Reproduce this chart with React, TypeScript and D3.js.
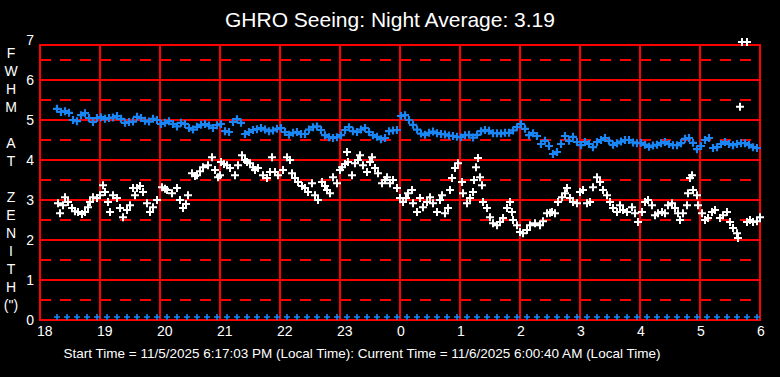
import React from 'react';
import * as d3 from 'd3';

const W = 780;
const H = 377;

const title = 'GHRO Seeing: Night Average: 3.19';
const footer = 'Start Time = 11/5/2025 6:17:03 PM (Local Time): Current Time = 11/6/2025 6:00:40 AM (Local Time)';
const hourLabels = ['18', '19', '20', '21', '22', '23', '0', '1', '2', '3', '4', '5', '6'];
const yTickLabels = ['0', '1', '2', '3', '4', '5', '6', '7'];
const yAxisLetters = ['F', 'W', 'H', 'M', '', 'A', 'T', '', 'Z', 'E', 'N', 'I', 'T', 'H', '(")'];

// minutes after 18:00
const blueStartMinute = 17;
const blueStepMinutes = 4;
const blueValues = [
  5.28, 5.2, 5.22, 5.18, 5.0, 4.97, 5.12, 5.17, 5.05, 4.95, 5.05, 5.07, 5.03, 5.05, 5.06, 5.1,
  5.03, 4.93, 4.95, 4.96, 5.08, 5.05, 4.98, 4.96, 5.03, 5.0, 4.9, 4.93, 4.97, 4.9, 4.84, 4.93,
  4.9, 4.8, 4.76, 4.83, 4.88, 4.9, 4.86, 4.8, 4.87, 4.9, 4.72, 4.7, 4.95, 5.02, 4.93, 4.65,
  4.7, 4.75, 4.77, 4.8, 4.76, 4.72, 4.74, 4.78, 4.8, 4.7, 4.63, 4.68, 4.7, 4.65, 4.65, 4.76,
  4.82, 4.84, 4.75, 4.62, 4.57, 4.55, 4.57, 4.62, 4.75, 4.82, 4.72, 4.7, 4.76, 4.8, 4.7, 4.62,
  4.58, 4.52, 4.55, 4.72, 4.74, 4.75, 5.1, 5.12, 5.0, 4.88, 4.76, 4.66, 4.63, 4.68, 4.71, 4.67,
  4.65, 4.64, 4.61, 4.6, 4.58, 4.57, 4.62, 4.63, 4.56, 4.63, 4.72, 4.75, 4.73, 4.67, 4.67, 4.66,
  4.68, 4.68, 4.74, 4.82, 4.9, 4.78, 4.62, 4.67, 4.6, 4.4, 4.48, 4.35, 4.15, 4.2, 4.4, 4.6,
  4.48, 4.58, 4.45, 4.37, 4.45, 4.4, 4.32, 4.45, 4.5, 4.55, 4.48, 4.38, 4.42, 4.46, 4.5, 4.5,
  4.44, 4.42, 4.43, 4.38, 4.33, 4.36, 4.38, 4.42, 4.45, 4.4, 4.37, 4.37, 4.42, 4.53, 4.55, 4.43,
  4.27, 4.35, 4.5, 4.55, 4.3, 4.32, 4.4, 4.45, 4.4, 4.37, 4.4, 4.42, 4.42, 4.38, 4.32, 4.3,
];

const baselineStartMinute = 17;
const baselineStepMinutes = 10;
const baselineValues = [
  0, 0, 0, 0, 0, 0, 0, 0, 0, 0, 0, 0, 0, 0, 0, 0, 0, 0, 0, 0, 0, 0, 0, 0,
  0, 0, 0, 0, 0, 0, 0, 0, 0, 0, 0, 0, 0, 0, 0, 0, 0, 0, 0, 0, 0, 0, 0, 0,
  0, 0, 0, 0, 0, 0, 0, 0, 0, 0, 0, 0, 0, 0, 0, 0, 0, 0, 0, 0, 0, 0, 0,
];

// [minute after 18:00, FWHM]
const whitePoints: [number, number][] = [
  [18, 2.92], [20, 2.67], [23, 2.87], [25, 3.07], [28, 2.95], [32, 2.8], [35, 2.72], [38, 2.7],
  [42, 2.65], [45, 2.7], [48, 2.82], [50, 2.95], [53, 3.07], [57, 3.05], [60, 3.12], [63, 3.37],
  [65, 3.2], [68, 2.95], [70, 2.7], [73, 3.12], [77, 3.05], [80, 2.8], [83, 2.57], [87, 2.75],
  [90, 2.87], [93, 3.3], [95, 3.12], [97, 3.3], [100, 3.35], [103, 3.2], [107, 2.92], [110, 2.7],
  [113, 2.82], [117, 3.0], [122, 3.32], [125, 3.28], [127, 3.25], [132, 3.17], [137, 3.3], [140, 3.0],
  [143, 2.8], [146, 2.9], [148, 3.12], [152, 3.67], [155, 3.6], [157, 3.62], [160, 3.72], [163, 3.82],
  [168, 3.87], [172, 4.07], [175, 3.75], [178, 3.57],
  [180, 3.62], [181, 3.95], [184, 3.9], [187, 3.87], [190, 3.8], [195, 3.62], [198, 3.87], [202, 4.12],
  [205, 4.0], [207, 3.95], [210, 3.92], [213, 3.82], [215, 3.75], [218, 3.8], [223, 3.62], [227, 3.55],
  [230, 3.7], [232, 4.07], [235, 3.7], [238, 3.62], [243, 3.75], [247, 4.07], [250, 4.0], [252, 3.67],
  [255, 3.55], [258, 3.45], [262, 3.35], [265, 3.3], [268, 3.2], [272, 3.42], [275, 3.12], [278, 3.0],
  [282, 3.45], [285, 3.35], [287, 3.25], [290, 3.17], [293, 3.57], [297, 3.42], [300, 3.75], [302, 3.82],
  [305, 3.9], [307, 4.2], [308, 3.95], [312, 3.62], [315, 3.92], [318, 4.0], [320, 4.12], [323, 3.87],
  [327, 3.7], [330, 3.95], [332, 4.07], [335, 3.8], [338, 3.67], [342, 3.42], [345, 3.5], [347, 3.57],
  [350, 3.42], [353, 3.5], [357, 3.3],
  [360, 3.05], [363, 2.95], [366, 3.05], [368, 3.17], [372, 3.25], [373, 2.92], [377, 2.7], [380, 3.05],
  [383, 2.82], [387, 2.95], [390, 3.07], [393, 2.92], [397, 2.7], [400, 3.0], [402, 3.12], [405, 2.67],
  [408, 2.8], [410, 3.25], [412, 3.55], [415, 3.8], [418, 3.92], [422, 3.45], [423, 3.17], [427, 2.92],
  [430, 3.05], [433, 3.2], [434, 3.5], [436, 3.82], [438, 4.05], [440, 3.57], [442, 3.37], [443, 2.95],
  [447, 2.8], [450, 2.57], [453, 2.42], [457, 2.37], [460, 2.45], [463, 2.55], [467, 2.8], [470, 2.95],
  [472, 2.7], [473, 2.5], [477, 2.37], [480, 2.2], [483, 2.17], [487, 2.25], [490, 2.37], [495, 2.42],
  [500, 2.37], [503, 2.47], [507, 2.67], [510, 2.68], [512, 2.7], [515, 2.67], [518, 2.95], [522, 3.07],
  [525, 3.17], [527, 3.3], [530, 3.05], [533, 2.95], [537, 2.92],
  [540, 3.2], [543, 3.25], [547, 2.92], [550, 2.95], [553, 3.32], [557, 3.57], [560, 3.45], [563, 3.25],
  [567, 3.12], [570, 2.95], [573, 2.8], [577, 2.7], [580, 2.87], [583, 2.75], [587, 2.7], [592, 2.82],
  [595, 2.67], [598, 2.45], [602, 2.7], [605, 2.95], [608, 3.0], [612, 2.87], [615, 2.62], [618, 2.67],
  [622, 2.7], [625, 2.67], [628, 2.87], [632, 2.92], [635, 2.8], [638, 2.67], [640, 2.5], [643, 2.67],
  [647, 2.87], [648, 3.17], [650, 3.55], [652, 3.62], [653, 3.25], [657, 3.12], [658, 2.87], [662, 2.67],
  [665, 2.5], [668, 2.55], [672, 2.7], [675, 2.75], [680, 2.55], [683, 2.62], [687, 2.7], [690, 2.45],
  [693, 2.3], [697, 2.17], [698, 2.05], [700, 5.33], [702, 6.95], [707, 6.95], [707, 2.45], [710, 2.5],
  [713, 2.45], [717, 2.47], [720, 2.57],
];

const PLOT_LEFT = 40;
const PLOT_RIGHT = 760;
const PLOT_BOTTOM = 320;
const PLOT_TOP = 45;
const FONT = '"Liberation Sans", Arial, sans-serif';

const x = d3.scaleLinear().domain([0, 720]).range([PLOT_LEFT, PLOT_RIGHT]);
const y = d3.scaleLinear().domain([0, 7]).range([PLOT_BOTTOM, 40]);

const plus = (cx: number, cy: number, r: number) =>
  `M${cx - r},${cy}H${cx + r}M${cx},${cy - r}V${cy + r}`;

export default function App() {
  const hourTicks = d3.range(0, 721, 60);
  const solidLevels = d3.range(1, 7);
  const dashedLevels = d3.range(0.5, 7, 1);

  const bluePath = blueValues
    .map((v, i) => plus(x(blueStartMinute + i * blueStepMinutes), y(v), 4))
    .join('');
  const basePath = baselineValues
    .map((v, i) => plus(x(baselineStartMinute + i * baselineStepMinutes), y(v) - 3, 3))
    .join('');
  const whitePath = whitePoints.map(([m, v]) => plus(x(m), y(v), 4)).join('');

  return (
    <svg
      width={W}
      height={H}
      style={{ position: 'fixed', left: 0, top: 0, display: 'block', background: '#000' }}
    >
      <rect x={0} y={0} width={W} height={H} fill="#000" />
      <text x={390} y={27} fill="#fff" fontFamily={FONT} fontSize={21} textAnchor="middle">
        {title}
      </text>

      {/* grid */}
      {dashedLevels.map((l) => (
        <line
          key={'d' + l}
          x1={PLOT_LEFT}
          x2={PLOT_RIGHT}
          y1={y(l)}
          y2={y(l)}
          stroke="#ff0000"
          strokeWidth={2}
          strokeDasharray="11,9"
        />
      ))}
      {solidLevels.map((l) => (
        <line key={'s' + l} x1={PLOT_LEFT} x2={PLOT_RIGHT} y1={y(l)} y2={y(l)} stroke="#ff0000" strokeWidth={2} />
      ))}
      {hourTicks.map((m) => (
        <line key={'v' + m} x1={x(m)} x2={x(m)} y1={PLOT_TOP} y2={PLOT_BOTTOM} stroke="#ff0000" strokeWidth={2} />
      ))}
      <line x1={PLOT_LEFT - 1} x2={PLOT_RIGHT + 1} y1={PLOT_TOP} y2={PLOT_TOP} stroke="#ff0000" strokeWidth={2} />
      <line x1={PLOT_LEFT - 1} x2={PLOT_RIGHT + 1} y1={PLOT_BOTTOM} y2={PLOT_BOTTOM} stroke="#ff0000" strokeWidth={2} />

      {/* data */}
      <path d={basePath} stroke="#1a86f5" strokeWidth={1.6} fill="none" />
      <path d={whitePath} stroke="#ffffff" strokeWidth={2} fill="none" />
      <path d={bluePath} stroke="#1a86f5" strokeWidth={2.2} fill="none" />

      {/* y tick labels */}
      {yTickLabels.map((t, i) => (
        <text
          key={'yt' + t}
          x={34}
          y={y(i) + 5}
          fill="#fff"
          fontFamily={FONT}
          fontSize={14}
          textAnchor="end"
        >
          {t}
        </text>
      ))}
      {/* x tick labels */}
      {hourLabels.map((t, i) => (
        <text
          key={'xt' + i}
          x={x(hourTicks[i]) - 3}
          y={336}
          fill="#fff"
          fontFamily={FONT}
          fontSize={14}
          textAnchor="start"
        >
          {t}
        </text>
      ))}
      {/* vertical axis title */}
      {yAxisLetters.map((c, i) => (
        <text
          key={'ya' + i}
          x={11}
          y={58 + i * 18}
          fill="#fff"
          fontFamily={FONT}
          fontSize={14}
          textAnchor="middle"
        >
          {c}
        </text>
      ))}
      <text x={362} y={358} fill="#fff" fontFamily={FONT} fontSize={13.5} textAnchor="middle">
        {footer}
      </text>
    </svg>
  );
}
